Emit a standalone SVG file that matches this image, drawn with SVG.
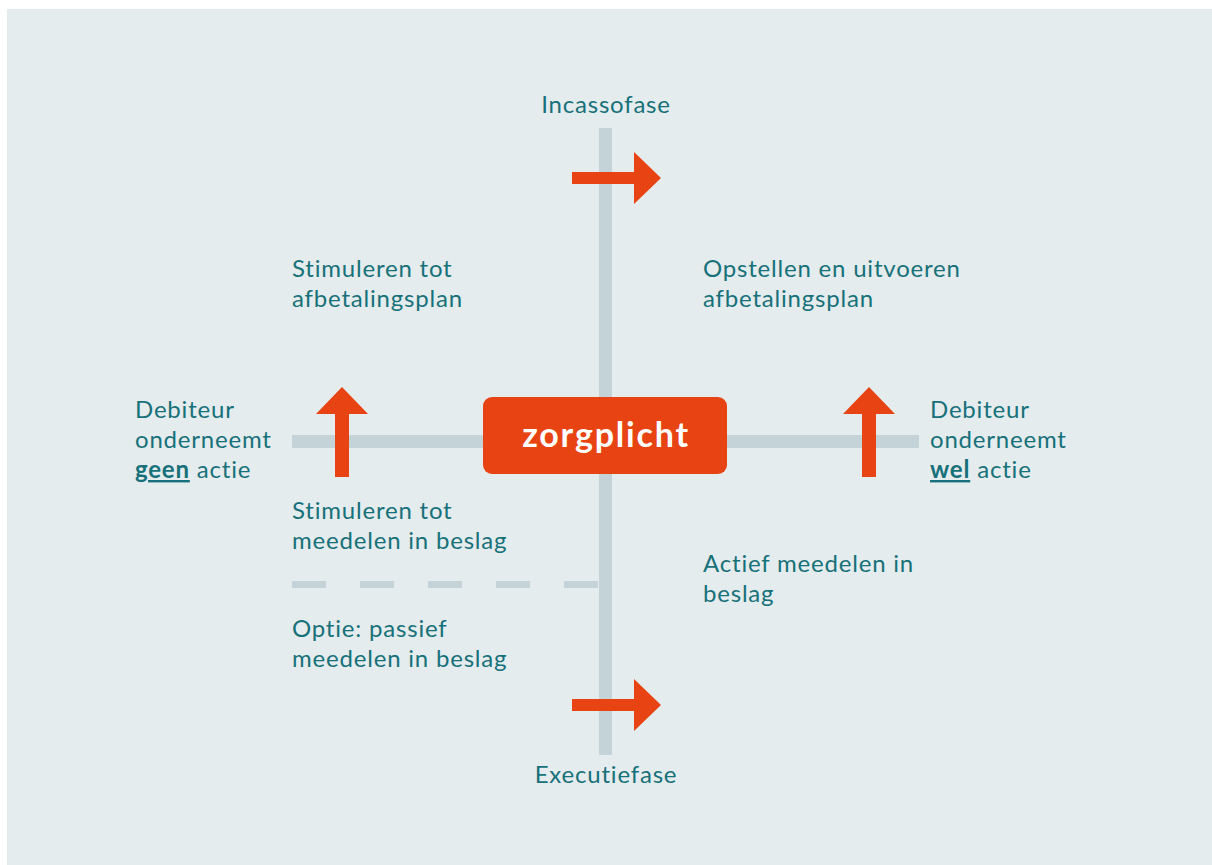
<svg xmlns="http://www.w3.org/2000/svg" width="1212" height="865" viewBox="0 0 1212 865">
  <style>
    .lbl { font-family: Lato, "Liberation Sans", sans-serif; font-size: 24px; letter-spacing: 0.8px; fill: #17717a; }
    .bold { font-weight: 700; text-decoration: underline; }
    .axis { fill: #c3d3d7; }
    .dash { stroke: #c3d3d7; stroke-width: 7; stroke-dasharray: 34 34; fill: none; }
    .arrow { fill: #e84312; }
    .core { fill: #e84312; }
    .coretxt { font-family: Lato, "Liberation Sans", sans-serif; font-size: 34px; font-weight: 700; letter-spacing: 1.8px; fill: #ffffff; }
  </style>
  <defs>
    <!-- right-pointing block arrow, origin at tail centre -->
    <polygon id="arrowRight" points="0,-6 62,-6 62,-26 89,0 62,26 62,6 0,6"/>
    <!-- up-pointing block arrow, origin at tail centre -->
    <polygon id="arrowUp" points="-7,0 -7,-63 -26,-63 0,-90 26,-63 7,-63 7,0"/>
  </defs>

  <!-- panel -->
  <rect x="7" y="9" width="1205" height="856" fill="#e5ecee"/>

  <!-- connectors: axes, divider and arrows -->
  <g id="connectors">
    <rect class="axis" x="599" y="128" width="13" height="627"/>
    <rect class="axis" x="292" y="435" width="627" height="13"/>
    <line class="dash" x1="292" y1="584.5" x2="600" y2="584.5"/>
    <use href="#arrowRight" class="arrow" x="572" y="178"/>
    <use href="#arrowRight" class="arrow" x="572" y="705"/>
    <use href="#arrowUp" class="arrow" x="342" y="477"/>
    <use href="#arrowUp" class="arrow" x="869" y="477"/>
  </g>

  <g id="zorgplicht">
    <rect class="core" x="483" y="397" width="244" height="77" rx="9"/>
    <text class="coretxt" x="606" y="447" text-anchor="middle">zorgplicht</text>
  </g>

  <g id="incassofase">
    <text class="lbl" x="606" y="113" text-anchor="middle">Incassofase</text>
  </g>

  <g id="executiefase">
    <text class="lbl" x="606" y="783" text-anchor="middle">Executiefase</text>
  </g>

  <g id="stimuleren-afbetaling">
    <text class="lbl" x="292" y="277">Stimuleren tot</text>
    <text class="lbl" x="292" y="307">afbetalingsplan</text>
  </g>

  <g id="opstellen-afbetaling">
    <text class="lbl" x="703" y="277">Opstellen en uitvoeren</text>
    <text class="lbl" x="703" y="307">afbetalingsplan</text>
  </g>

  <g id="debiteur-geen">
    <text class="lbl" x="135" y="418">Debiteur</text>
    <text class="lbl" x="135" y="448">onderneemt</text>
    <text class="lbl" x="135" y="478"><tspan class="bold">geen</tspan> actie</text>
  </g>

  <g id="debiteur-wel">
    <text class="lbl" x="930" y="418">Debiteur</text>
    <text class="lbl" x="930" y="448">onderneemt</text>
    <text class="lbl" x="930" y="478"><tspan class="bold">wel</tspan> actie</text>
  </g>

  <g id="stimuleren-beslag">
    <text class="lbl" x="292" y="519">Stimuleren tot</text>
    <text class="lbl" x="292" y="549">meedelen in beslag</text>
  </g>

  <g id="actief-beslag">
    <text class="lbl" x="703" y="572">Actief meedelen in</text>
    <text class="lbl" x="703" y="602">beslag</text>
  </g>

  <g id="passief-beslag">
    <text class="lbl" x="292" y="637">Optie: passief</text>
    <text class="lbl" x="292" y="667">meedelen in beslag</text>
  </g>
</svg>
